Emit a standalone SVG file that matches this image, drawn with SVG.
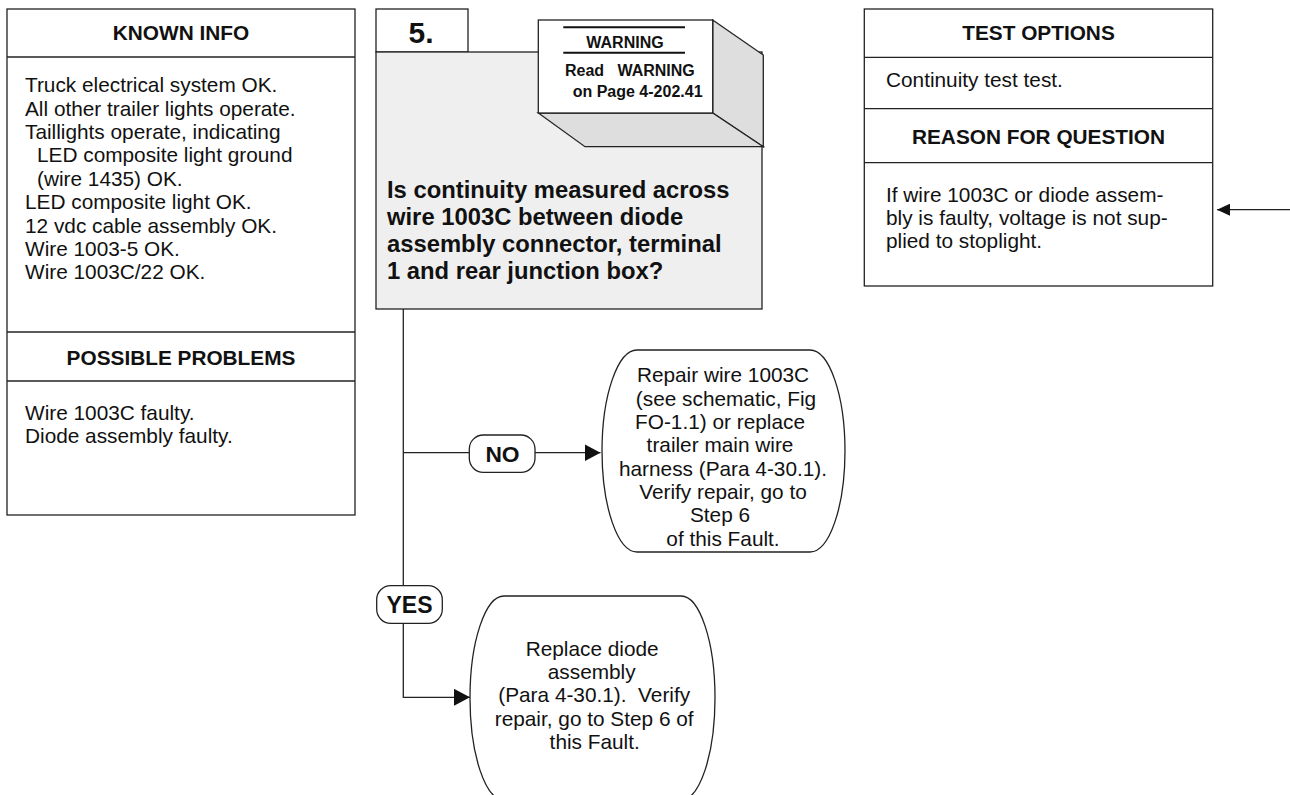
<svg xmlns="http://www.w3.org/2000/svg" width="1290" height="795" viewBox="0 0 1290 795">
<style>
.box{fill:#fff;stroke:#222;stroke-width:1.3}
.q{fill:#efefef;stroke:#222;stroke-width:1.3}
.side{fill:#dedede;stroke:#222;stroke-width:1.3}
.ln{fill:none;stroke:#222;stroke-width:1.3}
.t{font-family:"Liberation Sans",Arial,sans-serif;font-size:20.8px;fill:#111}
.h{font-family:"Liberation Sans",Arial,sans-serif;font-size:20.8px;font-weight:bold;fill:#111;text-anchor:middle}
.b{font-family:"Liberation Sans",Arial,sans-serif;font-weight:bold;fill:#111}
.m{text-anchor:middle}
</style>
<defs>
<marker id="ah" viewBox="0 0 16 17" refX="16" refY="8.5" markerWidth="16" markerHeight="17" markerUnits="userSpaceOnUse" orient="auto">
<path d="M0,0 L16,8.5 L0,17 Z" fill="#111"/>
</marker>
<marker id="ahs" viewBox="0 0 13 12" refX="13" refY="6" markerWidth="13" markerHeight="12" markerUnits="userSpaceOnUse" orient="auto">
<path d="M0,0 L13,6 L0,12 Z" fill="#111"/>
</marker>
</defs>

<g id="known-info">
<rect class="box" x="7" y="9" width="348" height="506"/>
<line class="ln" x1="7" y1="57" x2="355" y2="57"/>
<line class="ln" x1="7" y1="332" x2="355" y2="332"/>
<line class="ln" x1="7" y1="381" x2="355" y2="381"/>
<text class="h" x="181" y="40">KNOWN INFO</text>
<text class="t" x="25" y="92.3">Truck electrical system OK.</text>
<text class="t" x="25" y="115.7">All other trailer lights operate.</text>
<text class="t" x="25" y="139">Taillights operate, indicating</text>
<text class="t" x="37" y="162.4">LED composite light ground</text>
<text class="t" x="37" y="185.8">(wire 1435) OK.</text>
<text class="t" x="25" y="209.2">LED composite light OK.</text>
<text class="t" x="25" y="232.6">12 vdc cable assembly OK.</text>
<text class="t" x="25" y="256">Wire 1003-5 OK.</text>
<text class="t" x="25" y="279.4">Wire 1003C/22 OK.</text>
<text class="h" x="181" y="365">POSSIBLE PROBLEMS</text>
<text class="t" x="25" y="420">Wire 1003C faulty.</text>
<text class="t" x="25" y="443.4">Diode assembly faulty.</text>
</g>

<g id="step5">
<rect class="box" x="376" y="9" width="92" height="43"/>
<text class="b m" x="421" y="43" font-size="30">5.</text>
<rect class="q" x="376" y="52" width="386" height="257"/>
<text class="b" x="387" y="197.5" font-size="23.8">Is continuity measured across</text>
<text class="b" x="387" y="224.5" font-size="23.8">wire 1003C between diode</text>
<text class="b" x="387" y="251.5" font-size="23.8">assembly connector, terminal</text>
<text class="b" x="387" y="278.5" font-size="23.8">1 and rear junction box?</text>
</g>

<g id="warning">
<polygon class="side" points="712.7,20 763.3,55 763.3,146.7 712.7,113"/>
<polygon class="side" points="538.3,113 712.7,113 763.3,146.7 585,146.7"/>
<rect class="box" x="538.3" y="20" width="174.4" height="93"/>
<line x1="563.3" y1="27.3" x2="685" y2="27.3" stroke="#111" stroke-width="2"/>
<line x1="563.3" y1="52.7" x2="685" y2="52.7" stroke="#111" stroke-width="2"/>
<text class="b m" x="625" y="47.7" font-size="16">WARNING</text>
<text class="b" x="565" y="76" font-size="16" xml:space="preserve">Read   WARNING</text>
<text class="b" x="572.7" y="96.7" font-size="16">on Page 4-202.41</text>
</g>

<g id="test-options">
<rect class="box" x="864.3" y="9" width="348.4" height="277"/>
<line class="ln" x1="864.3" y1="57.3" x2="1212.7" y2="57.3"/>
<line class="ln" x1="864.3" y1="108.7" x2="1212.7" y2="108.7"/>
<line class="ln" x1="864.3" y1="162.7" x2="1212.7" y2="162.7"/>
<text class="h" x="1038.5" y="40">TEST OPTIONS</text>
<text class="t" x="886" y="87.3">Continuity test test.</text>
<text class="h" x="1038.5" y="144">REASON FOR QUESTION</text>
<text class="t" x="886" y="201.7">If wire 1003C or diode assem-</text>
<text class="t" x="886" y="225">bly is faulty, voltage is not sup-</text>
<text class="t" x="886" y="248.3">plied to stoplight.</text>
</g>

<g id="connectors">
<line class="ln" x1="403.3" y1="309" x2="403.3" y2="585.7"/>
<polyline class="ln" points="403.3,623.3 403.3,697.3 470,697.3" marker-end="url(#ah)"/>
<line class="ln" x1="403.3" y1="452.7" x2="469.3" y2="452.7"/>
<line class="ln" x1="535" y1="452.7" x2="600.5" y2="452.7" marker-end="url(#ah)"/>
<line class="ln" x1="1290" y1="209.7" x2="1217" y2="209.7" marker-end="url(#ahs)"/>
</g>

<g id="label-no">
<rect class="box" x="469.3" y="435" width="65.7" height="37.3" rx="14" ry="14"/>
<text class="b m" x="502.5" y="461.7" font-size="22.8">NO</text>
</g>

<g id="label-yes">
<rect class="box" x="376.7" y="585.7" width="65.6" height="37.6" rx="14" ry="14"/>
<text class="b m" x="409.5" y="613.3" font-size="23">YES</text>
</g>

<g id="no-action">
<path class="box" d="M637,350 L810,350 A35,101 0 0 1 810,552 L637,552 A35,101 0 0 1 637,350 Z"/>
<text class="t m" x="723" y="382.3">Repair wire 1003C</text>
<text class="t m" x="726" y="405.7">(see schematic, Fig</text>
<text class="t m" x="720" y="429">FO-1.1) or replace</text>
<text class="t m" x="720" y="452.3">trailer main wire</text>
<text class="t m" x="723" y="475.7">harness (Para 4-30.1).</text>
<text class="t m" x="723" y="499">Verify repair, go to</text>
<text class="t m" x="720" y="522.3">Step 6</text>
<text class="t m" x="723" y="545.7">of this Fault.</text>
</g>

<g id="yes-action">
<path class="box" d="M504,596 L681,596 A34,102 0 0 1 681,800 L504,800 A34,102 0 0 1 504,596 Z"/>
<text class="t m" x="592.2" y="655.7">Replace diode</text>
<text class="t m" x="591.7" y="679">assembly</text>
<text class="t m" x="594.2" y="702.4" xml:space="preserve">(Para 4-30.1).  Verify</text>
<text class="t m" x="594.2" y="725.8">repair, go to Step 6 of</text>
<text class="t m" x="594.7" y="749.2">this Fault.</text>
</g>
</svg>
